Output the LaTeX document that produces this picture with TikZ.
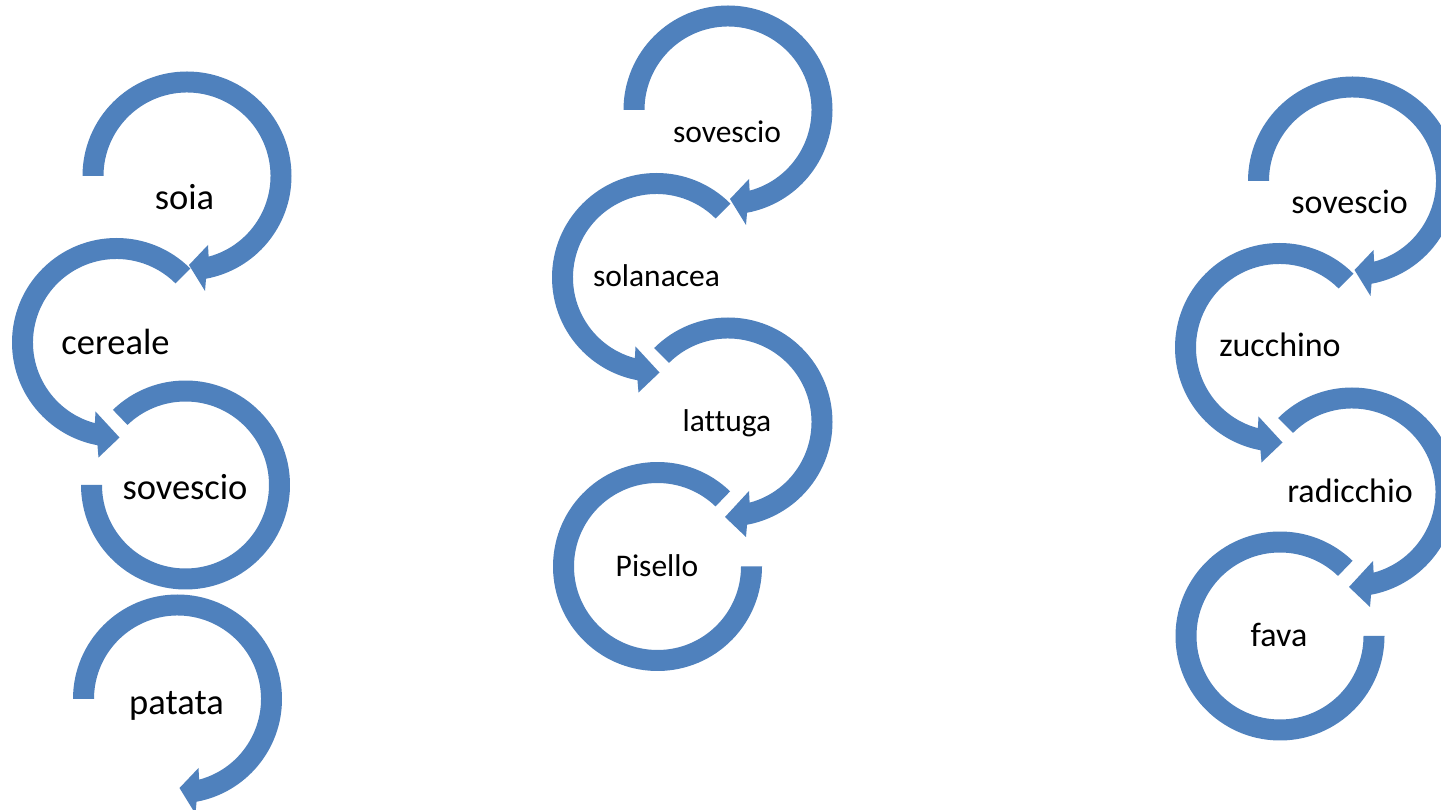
\documentclass[tikz,border=0pt]{standalone}
\usepackage{fontspec}
\setmainfont{Carlito}[Ligatures=NoCommon]
\definecolor{ringblue}{HTML}{4F81BD}
\tikzset{
  ringfill/.style={fill=ringblue},
  lab/.style={inner sep=0pt, anchor=base, text=black},
  bigtxt/.style={lab, font=\fontsize{36.5}{40}\selectfont},
  midtxt/.style={lab, font=\fontsize{31.5}{36}\selectfont},
  rgttxt/.style={lab, font=\fontsize{34}{38}\selectfont}
}
% #1,#2 centre, #3 xscale, #4 start angle, #5,#6 arrow tip
\newcommand{\arrowring}[6]{%
  \begin{scope}[shift={(#1,#2)},xscale=#3]
    \fill[ringfill] (#4:104.5) arc[start angle=#4,end angle=-79.5,radius=104.5]
      -- (18,-115) -- (#5,#6) -- (21,-69)
      -- (-75:83.5) arc[start angle=-75,end angle=#4,radius=83.5] -- cycle;
  \end{scope}}
% #1,#2 centre, #3 xscale
\newcommand{\openring}[3]{%
  \begin{scope}[shift={(#1,#2)},xscale=#3]
    \fill[ringfill] (134:104.5) arc[start angle=134,end angle=-180,radius=104.5]
      -- (180:83.5) arc[start angle=-180,end angle=134,radius=83.5] -- cycle;
  \end{scope}}
\begin{document}
\begin{tikzpicture}[x=1pt,y=1pt]
\useasboundingbox (0,0) rectangle (1441,809);
\clip (0,0) rectangle (1441,809);
\fill[white] (0,0) rectangle (1441,809);
% left column
\arrowring{187}{633}{1}{180}{2}{-89}
\arrowring{116.5}{466.5}{-1}{135}{-3}{-95}
\openring{185.5}{324}{1}
\arrowring{177.5}{110}{1}{180}{2}{-89}
% middle column
\arrowring{728}{699}{1}{180}{2}{-89}
\arrowring{656.5}{531.5}{-1}{135}{-3}{-95}
\arrowring{728}{387}{1}{135}{-3}{-95}
\openring{657.5}{242.5}{-1}
% right column
\arrowring{1352.5}{628}{1}{180}{2}{-89}
\arrowring{1279.5}{461.5}{-1}{135}{-3}{-95}
\arrowring{1352}{317}{1}{135}{-3}{-95}
\openring{1280}{173}{-1}
% labels
\node[bigtxt] (soia) at (184.5,599) {soia};
\node[bigtxt] (cereale) at (115.5,454) {cereale};
\node[bigtxt] (sovL) at (185,309) {sovescio};
\node[bigtxt] (patata) at (176.5,94) {patata};
\node[midtxt] (sovM) at (727,666) {sovescio};
\node[midtxt] (solanacea) at (656.5,522) {solanacea};
\node[midtxt] (lattuga) at (727,377.3) {lattuga};
\node[midtxt] (pisello) at (657,232.3) {Pisello};
\node[rgttxt] (sovR) at (1349.5,595) {sovescio};
\node[rgttxt] (zucchino) at (1280,452.3) {zucchino};
\node[rgttxt] (radicchio) at (1350,306) {radicchio};
\node[rgttxt] (fava) at (1279,162.3) {fava};
\end{tikzpicture}
\end{document}
